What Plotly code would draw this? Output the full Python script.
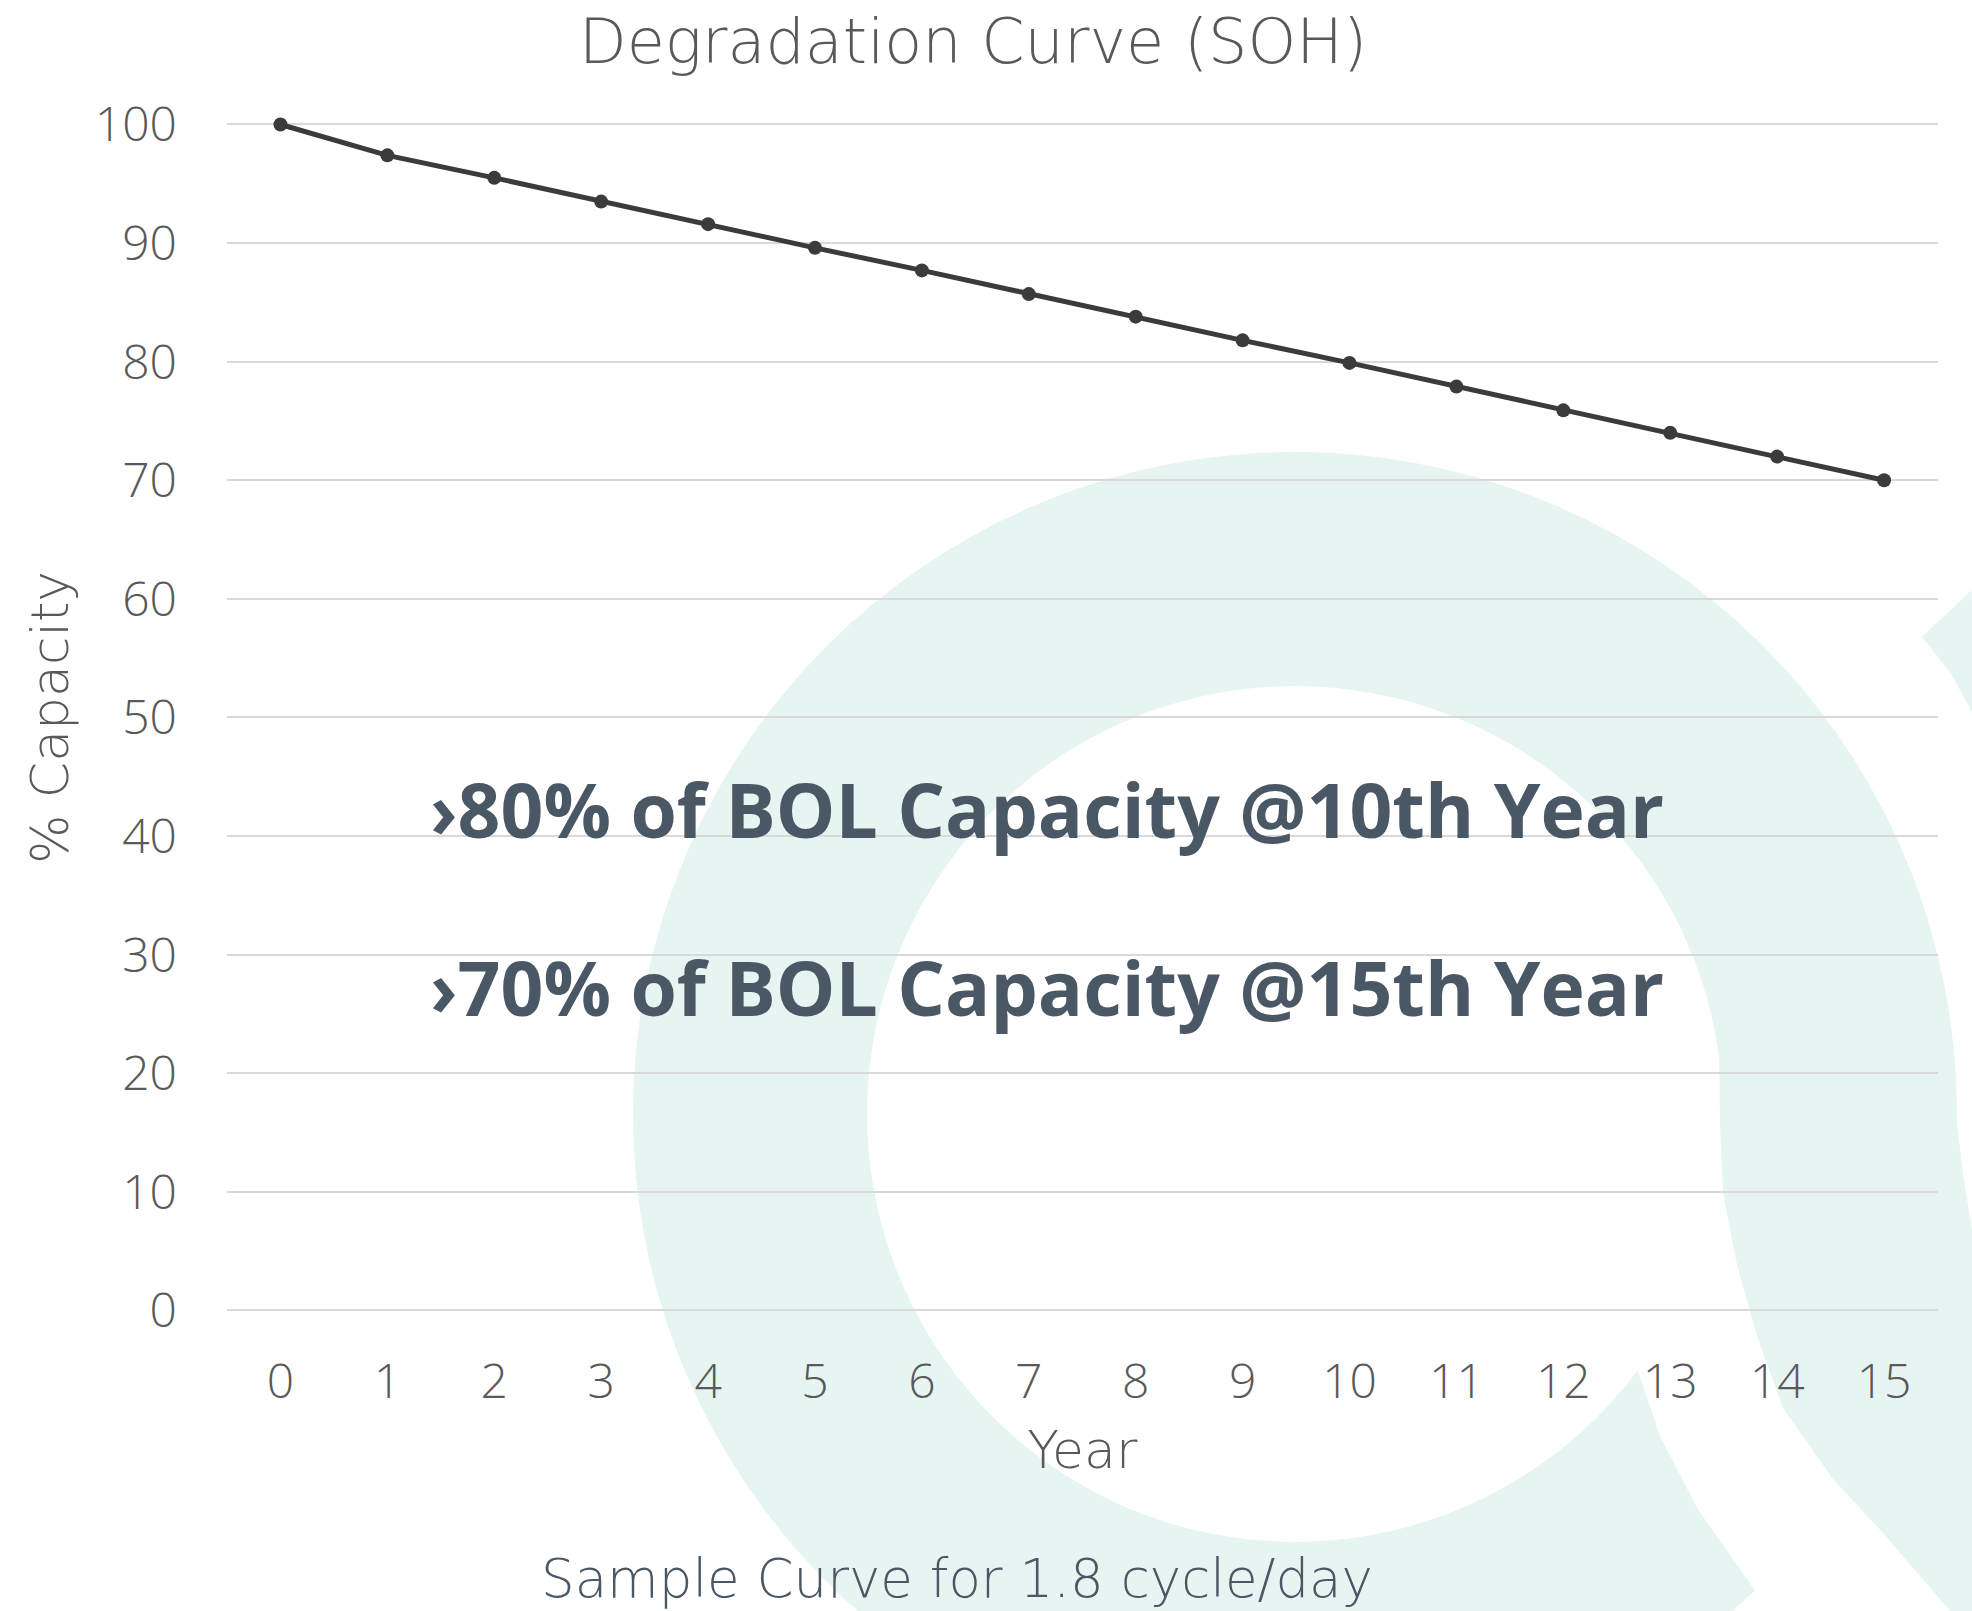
import math
import plotly.graph_objects as go

W, H = 1972, 1611

# ---- data ----
years = list(range(16))
soh = [100, 97.4, 95.5, 93.5, 91.6, 89.6, 87.7, 85.7, 83.8, 81.8, 79.9, 77.9, 75.9, 74.0, 72.0, 70.0]
x_tick_labels = [str(y) for y in years]
y_tick_vals = list(range(0, 101, 10))

title_text = "Degradation Curve (SOH)"
x_title = "Year"
y_title = "% Capacity"
note_1 = "›80% of BOL Capacity @10th Year"
note_2 = "›70% of BOL Capacity @15th Year"
footer = "Sample Curve for 1.8 cycle/day"

# ---- decorative watermark geometry (pixel space -> paper) ----
def to_paper(pts):
    return [(x / W, 1 - y / H) for x, y in pts]

def arc(cx, cy, r, a0, a1, n=120):
    out = []
    for i in range(n + 1):
        t = math.radians(a0 + (a1 - a0) * i / n)
        out.append((cx + r * math.cos(t), cy + r * math.sin(t)))
    return out

def path_from(pts):
    p = to_paper(pts)
    s = "M {:.5f},{:.5f} ".format(*p[0])
    s += " ".join("L {:.5f},{:.5f}".format(x, y) for x, y in p[1:])
    return s + " Z"

CX, CY, RO, RI = 1295, 1114, 662, 428
ring = arc(CX, CY, RO, 46, 362) + arc(CX, CY, RI, 362, 36.8) + [(1660, 1436), (1697, 1508)]
stem = [(1719, 1040), (1720, 1122), (1723, 1193), (1737, 1265), (1757, 1336),
        (1783, 1408), (1833, 1479), (1883, 1533), (1950, 1611), (1972, 1611),
        (1972, 1229), (1963, 1175), (1955, 1104), (1953, 1040)]
tip = [(1922, 637), (1972, 590), (1972, 712), (1950, 672)]

wm_color = "#e6f5f1"
shapes = [dict(type="path", xref="paper", yref="paper", path=path_from(p),
               fillcolor=wm_color, line=dict(width=0), layer="below")
          for p in (ring, stem, tip)]

TXT = "#595959"
SLATE = "#4a5764"
TICKFONT = "Open Sans"
LIGHT = "DejaVu Sans"
BOLD = "Open Sans"

fig = go.Figure()
fig.add_trace(go.Scatter(
    x=years, y=soh, mode="lines+markers",
    line=dict(color="#3b3b3b", width=5),
    marker=dict(color="#3b3b3b", size=14),
    cliponaxis=False, showlegend=False, hoverinfo="x+y",
))

# plot area in pixels: y=0 at 1310.5, y=100 at 124.5 ; x=-0.5 at 227, 15.5 at 1937.5
ppu = (1310.5 - 124.5) / 100.0
ext = 0.2
x0, x1 = 227 / W, 1937.5 / W
y0, y1 = 1 - (1310.5 + ext * ppu) / H, 1 - (124.5 - ext * ppu) / H

fig.update_layout(
    width=W, height=H,
    margin=dict(l=0, r=0, t=0, b=0, autoexpand=False),
    paper_bgcolor="white", plot_bgcolor="rgba(0,0,0,0)",
    font=dict(family=TICKFONT, color=TXT),
    title=dict(text=title_text, x=973 / W, xanchor="center", y=1 - 41 / H, yanchor="middle",
               font=dict(family=LIGHT, size=62, color=TXT, weight=200)),
    xaxis=dict(domain=[x0, x1], range=[-0.5, 15.5], tickmode="array",
               tickvals=years, ticktext=x_tick_labels, showgrid=False,
               zeroline=False, showline=False, ticks="", automargin=False,
               tickfont=dict(family=TICKFONT, size=48, color=TXT, weight=300),
               ticklabelstandoff=36,
               title=dict(text=x_title, standoff=20,
                          font=dict(family=LIGHT, size=52, color=TXT, weight=200))),
    yaxis=dict(domain=[y0, y1], range=[-ext, 100 + ext], tickmode="array",
               tickvals=y_tick_vals, showgrid=True, gridcolor="#d9d9d9", gridwidth=2,
               zeroline=False, showline=False, ticks="", automargin=False,
               tickfont=dict(family=TICKFONT, size=48, color=TXT, weight=300),
               ticklabelstandoff=49,
               title=dict(text=y_title, standoff=9,
                          font=dict(family=LIGHT, size=52, color=TXT, weight=200))),
    shapes=shapes,
    annotations=[
        dict(text=note_1, xref="paper", yref="paper", x=428 / W, y=1 - 809 / H,
             xanchor="left", yanchor="middle", showarrow=False,
             font=dict(family=BOLD, size=75, color=SLATE, weight=700)),
        dict(text=note_2, xref="paper", yref="paper", x=428 / W, y=1 - 987 / H,
             xanchor="left", yanchor="middle", showarrow=False,
             font=dict(family=BOLD, size=75, color=SLATE, weight=700)),
        dict(text=footer, xref="paper", yref="paper", x=957 / W, y=1 - 1578 / H,
             xanchor="center", yanchor="middle", showarrow=False,
             font=dict(family=LIGHT, size=53, color=SLATE, weight=200)),
    ],
)

fig.write_html("out.html", config={"displayModeBar": False},
               post_script="document.body.style.margin='0px';document.body.style.overflow='hidden';")
